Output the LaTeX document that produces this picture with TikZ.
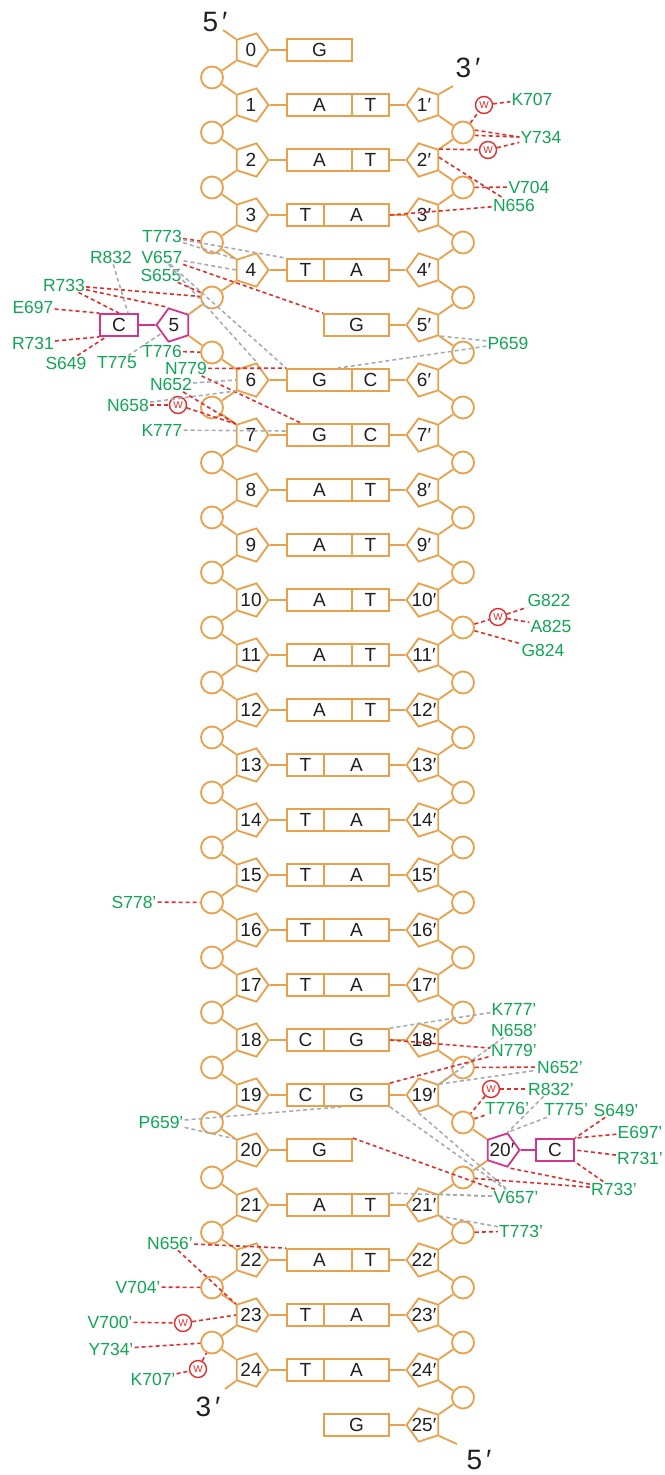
\documentclass[tikz,border=0pt]{standalone}
\usepackage{fontspec}
\setmainfont{Liberation Sans}
\usetikzlibrary{shapes.geometric,calc}
\definecolor{orng}{RGB}{233,160,75}
\definecolor{mgnt}{RGB}{214,51,140}
\definecolor{rdd}{RGB}{226,45,45}
\definecolor{grn}{RGB}{16,165,85}
\definecolor{gry}{RGB}{168,172,178}
\definecolor{ink}{RGB}{35,31,32}
\newcommand\ptx[1]{\makebox[0pt]{#1}}
\tikzset{
  sug/.style={regular polygon, regular polygon sides=5, draw=orng, line width=1.8pt, minimum size=35pt, inner sep=0pt, fill=white, text=ink, font=\fontsize{19}{19}\selectfont},
  sugR/.style={sug, shape border rotate=-90},
  sugL/.style={sug, shape border rotate=90},
  phos/.style={circle, draw=orng, line width=1.8pt, minimum size=22pt, inner sep=0pt, fill=white},
  wide/.style={rectangle, draw=orng, line width=1.8pt, minimum width=65pt, minimum height=22pt, inner sep=0pt, fill=white, text=ink, font=\fontsize{19}{19}\selectfont},
  narrow/.style={wide, minimum width=37pt},
  bb/.style={draw=orng, line width=1.8pt},
  mb/.style={draw=mgnt, line width=1.8pt},
  rl/.style={draw=rdd, line width=1.6pt, dash pattern=on 4pt off 3pt},
  gl/.style={draw=gry, line width=1.6pt, dash pattern=on 4pt off 3pt},
  lab/.style={text=grn, font=\fontsize{17.5}{17.5}\selectfont, inner sep=1pt},
  wc/.style={circle, draw=rdd, line width=1.4pt, minimum size=17pt, inner sep=0pt, fill=white, text=rdd, font=\fontsize{10}{10}\selectfont},
  bigl/.style={text=ink, font=\fontsize{28}{28}\selectfont, inner sep=0pt}
}
\begin{document}
\begin{tikzpicture}[x=1pt,y=-1pt]
\useasboundingbox (0,0) rectangle (664,1475);
% sugars
\foreach \n in {0,1,2,3,4,6,7,8,9,10,11,12,13,14,15,16,17,18,19,20,21,22,23,24}
  \node[sugR] (L\n) at (251,{50+55*\n}) {\ptx{\n}};
\foreach \n in {1,2,3,4,5,6,7,8,9,10,11,12,13,14,15,16,17,18,19,21,22,23,24,25}
  \node[sugL] (R\n) at (424,{50+55*\n}) {\ptx{\n′}};
\node[sugL, draw=mgnt] (P5) at (174,325) {\ptx{5}};
\node[sugR, draw=mgnt] (P20) at (502,1150) {\ptx{20′}};
% phosphates
\foreach \n in {0,...,23} \node[phos] (cL\n) at (212,{77.5+55*\n}) {};
\foreach \n in {1,...,24} \node[phos] (cR\n) at (463,{77.5+55*\n}) {};
% base pairs
\foreach \n/\a/\b in {1/A/T,2/A/T,6/G/C,7/G/C,8/A/T,9/A/T,10/A/T,11/A/T,12/A/T,21/A/T,22/A/T}{
  \node[wide] (BL\n) at (319.5,{50+55*\n}) {\a};
  \node[narrow] (BR\n) at (370.5,{50+55*\n}) {\b};
  \draw[bb] (L\n) -- (BL\n);
  \draw[bb] (BR\n) -- (R\n);
}
\foreach \n/\a/\b in {3/T/A,4/T/A,13/T/A,14/T/A,15/T/A,16/T/A,17/T/A,18/C/G,19/C/G,23/T/A,24/T/A}{
  \node[narrow] (BL\n) at (305.5,{50+55*\n}) {\a};
  \node[wide] (BR\n) at (356.5,{50+55*\n}) {\b};
  \draw[bb] (L\n) -- (BL\n);
  \draw[bb] (BR\n) -- (R\n);
}
\node[wide] (G0) at (319.5,50) {G};
\node[wide] (G5) at (356.5,325) {G};
\node[wide] (G20) at (319.5,1150) {G};
\node[wide] (G25) at (356.5,1425) {G};
\node[narrow, draw=mgnt, minimum width=38pt] (C5) at (119,325) {C};
\node[narrow, draw=mgnt, minimum width=38pt] (C20) at (555,1150) {C};
\draw[bb] (L0) -- (G0);
\draw[bb] (G5) -- (R5);
\draw[bb] (L20) -- (G20);
\draw[bb] (G25) -- (R25);
\draw[mb] (C5) -- (P5);
\draw[mb] (P20) -- (C20);
% backbone left
\foreach \n in {0,1,2,3,6,7,8,9,10,11,12,13,14,15,16,17,18,19,20,21,22,23}{
  \pgfmathtruncatemacro\m{\n+1}
  \draw[bb] (L\n.216) -- (cL\n);
  \draw[bb] (cL\n) -- (L\m.144);
}
\draw[bb] (L4.216) -- (cL4);
\draw[bb] (cL4) -- (P5.36);
\draw[bb] (P5.-36) -- (cL5);
\draw[bb] (cL5) -- (L6.144);
% backbone right
\foreach \n in {1,...,18,21,22,23,24}{
  \pgfmathtruncatemacro\m{\n+1}
  \draw[bb] (R\n.-36) -- (cR\n);
  \draw[bb] (cR\n) -- (R\m.36);
}
\draw[bb] (R19.-36) -- (cR19);
\draw[bb] (cR19) -- (P20.144);
\draw[bb] (P20.216) -- (cR20);
\draw[bb] (cR20) -- (R21.36);
% strand ends
\coordinate (e5t) at (223,30);
\coordinate (e3t) at (453,86);
\coordinate (e3b) at (225,1389);
\coordinate (e5b) at (457,1444);
\draw[bb] (L0.144) -- (e5t);
\draw[bb] (R1.36) -- (e3t);
\draw[bb] (L24.216) -- (e3b);
\draw[bb] (R25.-36) -- (e5b);
\node[bigl] (t5t) at (215,22) {5\hspace{4pt}′};
\node[bigl] (t3t) at (468,68) {3\hspace{4pt}′};
\node[bigl] (t3b) at (208,1407) {3\hspace{4pt}′};
\node[bigl] (t5b) at (479,1460) {5\hspace{4pt}′};
% water
\node[wc] (W1) at (484,105) {W};
\node[wc] (W2) at (488,150) {W};
\node[wc] (W3) at (178,405) {W};
\node[wc] (W4) at (498,617) {W};
\node[wc] (W5) at (491,1089) {W};
\node[wc] (W6) at (183,1323) {W};
\node[wc] (W7) at (198,1369) {W};
% labels
\node[lab] (K707) at (532,99) {K707};
\node[lab] (Y734) at (541,137) {Y734};
\node[lab] (V704) at (529,187) {V704};
\node[lab] (N656) at (514,205) {N656};
\node[lab] (T773) at (162,236) {T773};
\node[lab] (R832) at (111,257) {R832};
\node[lab] (V657) at (162,257) {V657};
\node[lab] (S655) at (161,275) {S655};
\node[lab] (R733) at (64,285) {R733};
\node[lab] (E697) at (33,307) {E697};
\node[lab] (R731) at (33,343) {R731};
\node[lab] (S649) at (66,363) {S649};
\node[lab] (T775) at (117,363) {T775};
\node[lab] (T776) at (162,351) {T776};
\node[lab] (N779) at (186,368.5) {N779};
\node[lab] (N652) at (171,384.5) {N652};
\node[lab] (N658) at (128,405) {N658};
\node[lab] (K777) at (162,430) {K777};
\node[lab] (P659) at (508,343) {P659};
\node[lab] (G822) at (549,600) {G822};
\node[lab] (A825) at (551,626) {A825};
\node[lab] (G824) at (543,650) {G824};
\node[lab] (S778p) at (134,902) {S778’};
\node[lab] (K777p) at (514,1009) {K777’};
\node[lab] (N658p) at (514,1030) {N658’};
\node[lab] (N779p) at (514,1050) {N779’};
\node[lab] (N652p) at (560,1067) {N652’};
\node[lab] (R832p) at (551,1089) {R832’};
\node[lab] (T776p) at (507,1108) {T776’};
\node[lab] (T775p) at (566,1110) {T775’};
\node[lab] (S649p) at (616,1110) {S649’};
\node[lab] (E697p) at (640,1132) {E697’};
\node[lab] (R731p) at (640,1158) {R731’};
\node[lab] (R733p) at (614,1189) {R733’};
\node[lab] (V657p) at (516,1197) {V657’};
\node[lab] (T773p) at (521,1231) {T773’};
\node[lab] (P659p) at (161,1122) {P659’};
\node[lab] (N656p) at (170,1243) {N656’};
\node[lab] (V704p) at (138,1287) {V704’};
\node[lab] (V700p) at (110,1322) {V700’};
\node[lab] (Y734p) at (111,1349) {Y734’};
\node[lab] (K707p) at (153,1379) {K707’};
% interactions top right
\draw[rl] (cR1) -- (W1);
\draw[rl] (W1) -- (K707);
\draw[rl] (cR1.12) -- (Y734.west);
\draw[rl] (cR1.-14) -- (Y734.west);
\draw[rl] (R2.36) -- (W2);
\draw[rl] (W2) -- (Y734);
\draw[rl] (cR2) -- (V704);
\draw[rl] (R2.10) -- (N656);
\draw[rl] (BR3.east) -- (N656);
% upper left
\draw[rl] (T773) -- (cL3);
\draw[gl] (T773) -- (BL4.north west);
\draw[gl] (T773) -- (L4.144);
\draw[gl] (V657) -- (L4.180);
\draw[gl] (V657) -- (BL6.north west);
\draw[gl] (V657) -- (L6.72);
\draw[rl] (V657) -- (G5.north west);
\draw[rl] (S655) -- (cL4);
\draw[rl] (R733) -- (cL4);
\draw[rl] (R733) -- (P5.108);
\draw[rl] (R733) -- (C5.north);
\draw[gl] (R832) -- ($(C5.north)+(9,0)$);
\draw[rl] (E697) -- (C5.north west);
\draw[rl] (R731) -- (C5.south west);
\draw[rl] (S649) -- ($(C5.south west)+(7,0)$);
\draw[gl] (T775) -- (P5);
\draw[rl] (T776) -- (cL5);
\draw[rl] (N779) -- (BL6.north west);
\draw[rl] (N779) -- ($(BL7.north west)+(15,0)$);
\draw[gl] (N652) -- (L6.180);
\draw[gl] (N658) -- (L6.216);
\draw[rl] (N652) -- (L7.144);
\draw[rl] (N658) -- (W3);
\draw[rl] (W3) -- (L7.144);
\draw[gl] (K777) -- ($(BL7.west)+(0,-4)$);
\draw[gl] (P659) -- (R5.-36);
\draw[gl] (P659) -- ($(BL6.north east)+(-15,0)$);
% middle
\draw[rl] (cR10) -- (W4);
\draw[rl] (W4) -- (G822);
\draw[rl] (W4) -- (A825);
\draw[rl] (cR10) -- (G824);
\draw[rl] (S778p) -- (cL15);
% lower right
\draw[gl] (K777p) -- (BR18.north east);
\draw[gl] (N658p) -- (R19.36);
\draw[rl] (BR18.east) -- (N779p);
\draw[rl] (BR19.north east) -- (N779p);
\draw[rl] (cR18) -- (N652p);
\draw[gl] (R19.36) -- (N652p);
\draw[rl] (W5) -- (R832p);
\draw[rl] (W5) -- (cR19);
\draw[rl] (T776p) -- (cR19);
\draw[gl] (T775p) -- (P20.72);
\draw[gl] (R832p) -- (P20.72);
\draw[rl] (S649p) -- (C20.north east);
\draw[rl] (E697p) -- (C20.north east);
\draw[rl] (R731p) -- (C20.east);
\draw[rl] (R733p) -- (C20.south east);
\draw[rl] (R733p) -- (P20.-72);
\draw[rl] (R733p) -- (cR20);
\draw[rl] (G20.north east) -- (V657p);
\draw[gl] (BR19.south east) -- (V657p);
\draw[gl] (R19.252) -- (V657p);
\draw[gl] (BR21.north east) -- (V657p);
\draw[gl] (R21.36) -- (V657p);
\draw[gl] (R21.-36) -- (T773p);
\draw[rl] (cR21) -- (T773p);
% lower left
\draw[gl] (P659p) -- ($(BR19.south west)+(18,0)$);
\draw[gl] (P659p) -- (L20.144);
\draw[rl] (N656p) -- (BL22.north west);
\draw[rl] (N656p) -- (L23.144);
\draw[rl] (V704p) -- (cL22);
\draw[rl] (V700p) -- (W6);
\draw[rl] (W6) -- (L23.180);
\draw[rl] (Y734p) -- (cL23);
\draw[rl] (K707p) -- (W7);
\draw[rl] (W7) -- (cL23);
\end{tikzpicture}
\end{document}
